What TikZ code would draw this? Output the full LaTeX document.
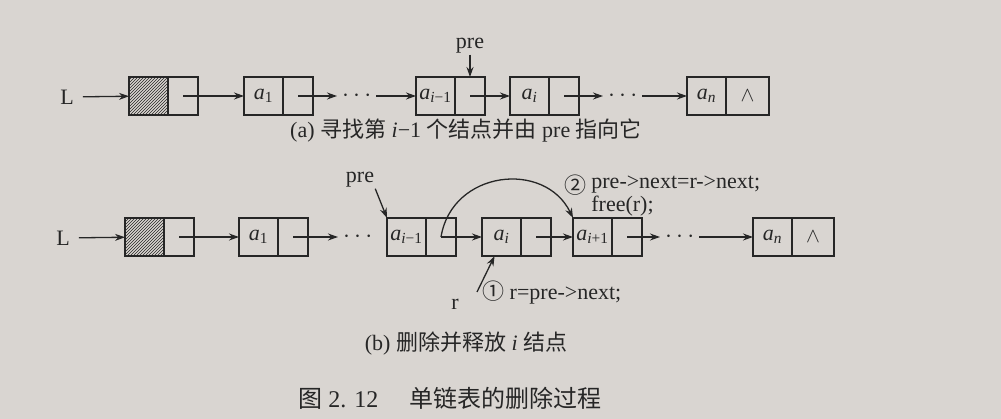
\documentclass[tikz,border=0pt]{standalone}
\usepackage{fontspec}
\setmainfont{Liberation Serif}
\newfontfamily\cjk{Noto Sans CJK SC}
\usetikzlibrary{arrows.meta,positioning,patterns}
\definecolor{ink}{HTML}{262626}
\definecolor{paper}{HTML}{D9D5D1}
\newcommand{\elem}[1]{\textit{a}\textsubscript{#1}}

\begin{document}
\begin{tikzpicture}[
  x=1pt,y=-1pt,
  node distance=0pt,
  cell/.style={draw=ink,line width=1.9pt,outer sep=0pt,inner sep=0pt,
               minimum height=38pt,text=ink,font=\fontsize{22}{26}\selectfont},
  datacell/.style={cell,minimum width=39pt},
  ptrcell/.style={cell,minimum width=30pt},
  headcell/.style={datacell,pattern=north east lines,pattern color=ink},
  dots/.style={inner xsep=5pt,text=ink,font=\fontsize{26}{28}\selectfont},
  lbl/.style={inner sep=1pt,text=ink,font=\fontsize{22}{26}\selectfont},
  arr/.style={-{Stealth[length=10pt,width=7pt]},line width=1.3pt,draw=ink}
]
\fill[paper] (0,0) rectangle (1001,419);
\useasboundingbox (0,0) rectangle (1001,419);

% (a) find node i-1
\node[lbl] (L1) at (67,97) {L};
\node[headcell,anchor=west] (h1) at (129,96) {};
\node[ptrcell,right=of h1] (h1p) {};
\node[datacell,right=46pt of h1p] (a1) {\elem{1}};
\node[ptrcell,right=of a1] (a1p) {};
\node[dots,right=24pt of a1p] (d1) {$\cdots$};
\node[datacell,right=103pt of a1p] (aim1) {\elem{\textit{i}−1}};
\node[ptrcell,right=of aim1] (aim1p) {};
\node[datacell,right=25pt of aim1p] (ai) {\elem{\textit{i}}};
\node[ptrcell,right=of ai] (aip) {};
\node[dots,right=24pt of aip] (d2) {$\cdots$};
\node[datacell,right=108pt of aip] (an) {\elem{\textit{n}}};
\node[ptrcell,minimum width=43pt,right=of an] (anp) {$\wedge$};
\node[lbl] (pre1) at (470,46) {pre};
\draw[arr,shorten <=8pt] (L1) -- (h1);
\draw[arr] (h1p.center) -- (a1);
\draw[arr] (a1p.center) -- (d1);
\draw[arr] (d1) -- (aim1);
\draw[arr] (aim1p.center) -- (ai);
\draw[arr] (aip.center) -- (d2);
\draw[arr] (d2) -- (an);
\draw[arr] (pre1) -- (aim1p.north);
\node[lbl] (capa) at (466,131) {(a) {\cjk 寻找第} \textit{i}−1 {\cjk 个结点并由} pre {\cjk 指向它}};

% (b) delete and free node i
\node[lbl] (L2) at (63,238) {L};
\node[headcell,anchor=west] (h2) at (125,237) {};
\node[ptrcell,right=of h2] (h2p) {};
\node[datacell,right=45pt of h2p] (b1) {\elem{1}};
\node[ptrcell,right=of b1] (b1p) {};
\node[dots,right=30pt of b1p] (d3) {$\cdots$};
\node[datacell,right=79pt of b1p] (bim1) {\elem{\textit{i}−1}};
\node[ptrcell,right=of bim1] (bim1p) {};
\node[datacell,right=26pt of bim1p] (bi) {\elem{\textit{i}}};
\node[ptrcell,right=of bi] (bip) {};
\node[datacell,right=22pt of bip] (bip1) {\elem{\textit{i}+1}};
\node[ptrcell,right=of bip1] (bip1p) {};
\node[dots,right=18pt of bip1p] (d4) {$\cdots$};
\node[datacell,right=111pt of bip1p] (bn) {\elem{\textit{n}}};
\node[ptrcell,minimum width=42pt,right=of bn] (bnp) {$\wedge$};
\draw[arr,shorten <=8pt] (L2) -- (h2);
\draw[arr] (h2p.center) -- (b1);
\draw[arr] (b1p.center) -- (d3);
\draw[arr] (bim1p.center) -- (bi);
\draw[arr] (bip.center) -- (bip1);
\draw[arr] (bip1p.center) -- (d4);
\draw[arr] (d4) -- (bn);

\node[lbl] (pre2) at (360,180) {pre};
\draw[arr] (pre2.south east) -- (bim1.north west);
\draw[arr] (bim1p.center) .. controls (452,170) and (545,160) .. (bip1.north west);
\node[lbl] (n2) at (575,185) {\cjk ②};
\node[lbl,right=3pt of n2] (op2) {pre->next=r->next;};
\node[lbl,anchor=north west] (free) at (op2.south west) {free(r);};

\node[lbl] (r) at (455,304) {r};
\coordinate (rtail) at (477,292);
\draw[arr] (rtail) -- (bi.-110);
\node[lbl,anchor=west] (op1) at (481,293) {{\cjk ①} r=pre->next;};

\node[lbl] (capb) at (466,344) {(b) {\cjk 删除并释放} \textit{i} {\cjk 结点}};
\node[lbl,font=\fontsize{24}{28}\selectfont] (fig) at (450,398)
  {{\cjk 图} 2. 12\hspace{1.3em}{\cjk 单链表的删除过程}};
\end{tikzpicture}
\end{document}
